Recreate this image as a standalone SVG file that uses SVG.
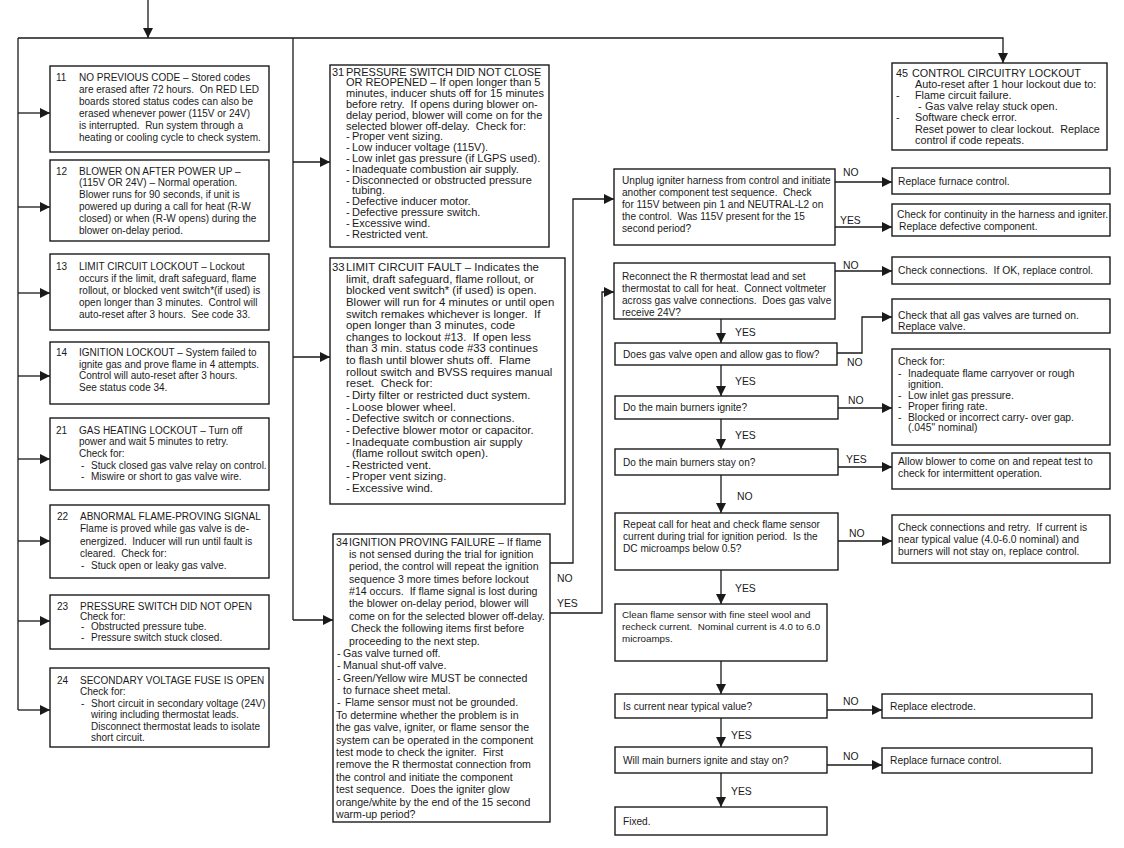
<svg xmlns="http://www.w3.org/2000/svg" width="1124" height="848" viewBox="0 0 1124 848">
<defs>
<marker id="ah" viewBox="0 0 10 10" refX="10" refY="5" markerWidth="10" markerHeight="10" markerUnits="userSpaceOnUse" orient="auto">
<path d="M0,0 L10,5 L0,10 z" fill="#1a1a1a"/>
</marker>
<style>
.b{fill:#fff;stroke:#1a1a1a;stroke-width:1.4}
.t{font-family:"Liberation Sans",Arial,Helvetica,sans-serif;font-size:10px;fill:#1a1a1a}
.m1{font-size:11px}
.m3{font-size:11.4px}
.m4{font-size:10.6px}
.r45{font-size:10.8px}
.f{font-size:10.1px}
.f2{font-size:9.8px}
.rb{font-size:10.3px}
.c{fill:none;stroke:#1a1a1a;stroke-width:1.3}
.a{marker-end:url(#ah)}
.l{font-family:"Liberation Sans",Arial,Helvetica,sans-serif;font-size:10.4px;fill:#1a1a1a}
</style>
</defs>
<rect width="1124" height="848" fill="#fff"/>

<g id="connectors">
<path class="c a" d="M148,0 V38"/>
<path class="c a" d="M18,38 H1003 V63"/>
<path class="c" d="M18,38 V710"/>
<path class="c a" d="M18,113 H50"/>
<path class="c a" d="M18,207 H50"/>
<path class="c a" d="M18,293 H50"/>
<path class="c a" d="M18,376 H50"/>
<path class="c a" d="M18,459 H50"/>
<path class="c a" d="M18,541 H50"/>
<path class="c a" d="M18,621 H50"/>
<path class="c a" d="M18,710 H50"/>
<path class="c" d="M293,38 V620"/>
<path class="c a" d="M293,162 H330"/>
<path class="c a" d="M293,357 H330"/>
<path class="c a" d="M293,620 H333"/>
<path class="c a" d="M550,563 H573 V199 H614"/>
<path class="c a" d="M550,613 H602 V292 H614"/>
<path class="c a" d="M835,182 H892"/>
<path class="c a" d="M835,227 H892"/>
<path class="c a" d="M835,271 H892"/>
<path class="c a" d="M837,353 H862 V317 H892"/>
<path class="c a" d="M838,408 H892"/>
<path class="c a" d="M838,467 H892"/>
<path class="c a" d="M838,541 H892"/>
<path class="c a" d="M827,710 H882"/>
<path class="c a" d="M827,765 H882"/>
<path class="c a" d="M721,319 V343"/>
<path class="c a" d="M721,365 V396"/>
<path class="c a" d="M721,419 V449"/>
<path class="c a" d="M721,475 V513"/>
<path class="c a" d="M721,570 V604"/>
<path class="c a" d="M721,661 V694"/>
<path class="c a" d="M721,718 V747"/>
<path class="c a" d="M721,773 V807"/>
<text class="l" x="557" y="582">NO</text>
<text class="l" x="557" y="607">YES</text>
<text class="l" x="843" y="176">NO</text>
<text class="l" x="840" y="224">YES</text>
<text class="l" x="843" y="269">NO</text>
<text class="l" x="735" y="336">YES</text>
<text class="l" x="847" y="366">NO</text>
<text class="l" x="735" y="385">YES</text>
<text class="l" x="848" y="404">NO</text>
<text class="l" x="735" y="439">YES</text>
<text class="l" x="846" y="463">YES</text>
<text class="l" x="737" y="500">NO</text>
<text class="l" x="849" y="537">NO</text>
<text class="l" x="735" y="592">YES</text>
<text class="l" x="843" y="705">NO</text>
<text class="l" x="731" y="739">YES</text>
<text class="l" x="843" y="760">NO</text>
<text class="l" x="731" y="795">YES</text>
</g>

<g id="n11">
<rect class="b" x="50" y="66" width="219" height="86"/>
<text class="t"><tspan x="56" y="81">11</tspan><tspan x="79" y="81">NO PREVIOUS CODE – Stored codes</tspan><tspan x="79" y="92.9">are erased after 72 hours.&#160; On RED LED</tspan><tspan x="79" y="104.8">boards stored status codes can also be</tspan><tspan x="79" y="116.7">erased whenever power (115V or 24V)</tspan><tspan x="79" y="128.6">is interrupted.&#160; Run system through a</tspan><tspan x="79" y="140.5">heating or cooling cycle to check system.</tspan></text>
</g>

<g id="n12">
<rect class="b" x="50" y="160" width="219" height="81"/>
<text class="t"><tspan x="56" y="174.5">12</tspan><tspan x="79" y="174.5">BLOWER ON AFTER POWER UP –</tspan><tspan x="79" y="186.4">(115V OR 24V) – Normal operation.</tspan><tspan x="79" y="198.3">Blower runs for 90 seconds, if unit is</tspan><tspan x="79" y="210.2">powered up during a call for heat (R-W</tspan><tspan x="79" y="222.1">closed) or when (R-W opens) during the</tspan><tspan x="79" y="234">blower on-delay period.</tspan></text>
</g>

<g id="n13">
<rect class="b" x="50" y="254" width="219" height="76"/>
<text class="t"><tspan x="56" y="269.5">13</tspan><tspan x="79" y="269.5">LIMIT CIRCUIT LOCKOUT – Lockout</tspan><tspan x="79" y="281.5">occurs if the limit, draft safeguard, flame</tspan><tspan x="79" y="293.5">rollout, or blocked vent switch*(if used) is</tspan><tspan x="79" y="305.5">open longer than 3 minutes.&#160; Control will</tspan><tspan x="79" y="317.5">auto-reset after 3 hours.&#160; See code 33.</tspan></text>
</g>

<g id="n14">
<rect class="b" x="50" y="342" width="219" height="62"/>
<text class="t"><tspan x="56" y="356">14</tspan><tspan x="79" y="356">IGNITION LOCKOUT – System failed to</tspan><tspan x="79" y="367.7">ignite gas and prove flame in 4 attempts.</tspan><tspan x="79" y="379.4">Control will auto-reset after 3 hours.</tspan><tspan x="79" y="391.1">See status code 34.</tspan></text>
</g>

<g id="n21">
<rect class="b" x="50" y="418" width="219" height="72"/>
<text class="t"><tspan x="56" y="433.5">21</tspan><tspan x="79" y="433.5">GAS HEATING LOCKOUT – Turn off</tspan><tspan x="79" y="445.2">power and wait 5 minutes to retry.</tspan><tspan x="79" y="456.9">Check for:</tspan><tspan x="81" y="468.6">-</tspan><tspan x="91" y="468.6">Stuck closed gas valve relay on control.</tspan><tspan x="81" y="480.3">-</tspan><tspan x="91" y="480.3">Miswire or short to gas valve wire.</tspan></text>
</g>

<g id="n22">
<rect class="b" x="50" y="505" width="219" height="73"/>
<text class="t"><tspan x="57" y="520">22</tspan><tspan x="80" y="520">ABNORMAL FLAME-PROVING SIGNAL</tspan><tspan x="80" y="532.2">Flame is proved while gas valve is de-</tspan><tspan x="80" y="544.5">energized.&#160; Inducer will run until fault is</tspan><tspan x="80" y="556.7">cleared.&#160; Check for:</tspan><tspan x="81" y="569">-</tspan><tspan x="91" y="569">Stuck open or leaky gas valve.</tspan></text>
</g>

<g id="n23">
<rect class="b" x="50" y="595" width="219" height="54"/>
<text class="t"><tspan x="57" y="609.5">23</tspan><tspan x="80" y="609.5">PRESSURE SWITCH DID NOT OPEN</tspan><tspan x="80" y="619.9">Check for:</tspan><tspan x="81" y="630.3">-</tspan><tspan x="91" y="630.3">Obstructed pressure tube.</tspan><tspan x="81" y="640.7">-</tspan><tspan x="91" y="640.7">Pressure switch stuck closed.</tspan></text>
</g>

<g id="n24">
<rect class="b" x="50" y="668" width="219" height="79"/>
<text class="t"><tspan x="57" y="683.5">24</tspan><tspan x="80" y="683.5">SECONDARY VOLTAGE FUSE IS OPEN</tspan><tspan x="80" y="695">Check for:</tspan><tspan x="81" y="706.5">-</tspan><tspan x="91" y="706.5">Short circuit in secondary voltage (24V)</tspan><tspan x="91" y="718">wiring including thermostat leads.</tspan><tspan x="91" y="729.5">Disconnect thermostat leads to isolate</tspan><tspan x="91" y="741">short circuit.</tspan></text>
</g>

<g id="n31">
<rect class="b" x="330" y="65" width="219" height="182"/>
<text class="t m1"><tspan x="332" y="75.5">31</tspan><tspan x="346" y="75.5">PRESSURE SWITCH DID NOT CLOSE</tspan><tspan x="346" y="86.3">OR REOPENED – If open longer than 5</tspan><tspan x="346" y="97.1">minutes, inducer shuts off for 15 minutes</tspan><tspan x="346" y="107.9">before retry.&#160; If opens during blower on-</tspan><tspan x="346" y="118.7">delay period, blower will come on for the</tspan><tspan x="346" y="129.5">selected blower off-delay.&#160; Check for:</tspan><tspan x="346" y="140.3">-</tspan><tspan x="352" y="140.3">Proper vent sizing.</tspan><tspan x="346" y="151.1">-</tspan><tspan x="352" y="151.1">Low inducer voltage (115V).</tspan><tspan x="346" y="161.9">-</tspan><tspan x="352" y="161.9">Low inlet gas pressure (if LGPS used).</tspan><tspan x="346" y="172.7">-</tspan><tspan x="352" y="172.7">Inadequate combustion air supply.</tspan><tspan x="346" y="183.5">-</tspan><tspan x="352" y="183.5">Disconnected or obstructed pressure</tspan><tspan x="352" y="194.3">tubing.</tspan><tspan x="346" y="205.1">-</tspan><tspan x="352" y="205.1">Defective inducer motor.</tspan><tspan x="346" y="215.9">-</tspan><tspan x="352" y="215.9">Defective pressure switch.</tspan><tspan x="346" y="226.7">-</tspan><tspan x="352" y="226.7">Excessive wind.</tspan><tspan x="346" y="237.5">-</tspan><tspan x="352" y="237.5">Restricted vent.</tspan></text>
</g>

<g id="n33">
<rect class="b" x="330" y="258" width="235" height="246"/>
<text class="t m3"><tspan x="332" y="271">33</tspan><tspan x="346" y="271">LIMIT CIRCUIT FAULT – Indicates the</tspan><tspan x="346" y="282.6">limit, draft safeguard, flame rollout, or</tspan><tspan x="346" y="294.3">blocked vent switch* (if used) is open.</tspan><tspan x="346" y="305.9">Blower will run for 4 minutes or until open</tspan><tspan x="346" y="317.5">switch remakes whichever is longer.&#160; If</tspan><tspan x="346" y="329.2">open longer than 3 minutes, code</tspan><tspan x="346" y="340.8">changes to lockout #13.&#160; If open less</tspan><tspan x="346" y="352.4">than 3 min. status code #33 continues</tspan><tspan x="346" y="364">to flash until blower shuts off.&#160; Flame</tspan><tspan x="346" y="375.7">rollout switch and BVSS requires manual</tspan><tspan x="346" y="387.3">reset.&#160; Check for:</tspan><tspan x="346" y="398.9">-</tspan><tspan x="352" y="398.9">Dirty filter or restricted duct system.</tspan><tspan x="346" y="410.6">-</tspan><tspan x="352" y="410.6">Loose blower wheel.</tspan><tspan x="346" y="422.2">-</tspan><tspan x="352" y="422.2">Defective switch or connections.</tspan><tspan x="346" y="433.8">-</tspan><tspan x="352" y="433.8">Defective blower motor or capacitor.</tspan><tspan x="346" y="445.5">-</tspan><tspan x="352" y="445.5">Inadequate combustion air supply</tspan><tspan x="352" y="457.1">(flame rollout switch open).</tspan><tspan x="346" y="468.7">-</tspan><tspan x="352" y="468.7">Restricted vent.</tspan><tspan x="346" y="480.4">-</tspan><tspan x="352" y="480.4">Proper vent sizing.</tspan><tspan x="346" y="492">-</tspan><tspan x="352" y="492">Excessive wind.</tspan></text>
</g>

<g id="n34">
<rect class="b" x="333" y="534" width="217" height="288"/>
<text class="t m4"><tspan x="336" y="545.5">34</tspan><tspan x="349" y="545.5">IGNITION PROVING FAILURE – If flame</tspan><tspan x="349" y="557.9">is not sensed during the trial for ignition</tspan><tspan x="349" y="570.3">period, the control will repeat the ignition</tspan><tspan x="349" y="582.6">sequence 3 more times before lockout</tspan><tspan x="349" y="595">#14 occurs.&#160; If flame signal is lost during</tspan><tspan x="349" y="607.4">the blower on-delay period, blower will</tspan><tspan x="349" y="619.8">come on for the selected blower off-delay.</tspan><tspan x="351" y="632.2">Check the following items first before</tspan><tspan x="349" y="644.5">proceeding to the next step.</tspan><tspan x="337" y="656.9">-</tspan><tspan x="343" y="656.9">Gas valve turned off.</tspan><tspan x="337" y="669.3">-</tspan><tspan x="343" y="669.3">Manual shut-off valve.</tspan><tspan x="337" y="681.7">-</tspan><tspan x="343" y="681.7">Green/Yellow wire MUST be connected</tspan><tspan x="343" y="694.1">to furnace sheet metal.</tspan><tspan x="337" y="706.4">-</tspan><tspan x="345" y="706.4">Flame sensor must not be grounded.</tspan><tspan x="336" y="718.8">To determine whether the problem is in</tspan><tspan x="336" y="731.2">the gas valve, igniter, or flame sensor the</tspan><tspan x="336" y="743.6">system can be operated in the component</tspan><tspan x="336" y="756">test mode to check the igniter.&#160; First</tspan><tspan x="336" y="768.3">remove the R thermostat connection from</tspan><tspan x="336" y="780.7">the control and initiate the component</tspan><tspan x="336" y="793.1">test sequence.&#160; Does the igniter glow</tspan><tspan x="336" y="805.5">orange/white by the end of the 15 second</tspan><tspan x="336" y="817.9">warm-up period?</tspan></text>
</g>

<g id="n45">
<rect class="b" x="892" y="63" width="215" height="87"/>
<text class="t r45"><tspan x="896" y="77">45</tspan><tspan x="912" y="77">CONTROL CIRCUITRY LOCKOUT</tspan><tspan x="915" y="88.1">Auto-reset after 1 hour lockout due to:</tspan><tspan x="896" y="99.2">-</tspan><tspan x="915" y="99.2">Flame circuit failure.</tspan><tspan x="918" y="110.3">-</tspan><tspan x="925" y="110.3">Gas valve relay stuck open.</tspan><tspan x="896" y="121.4">-</tspan><tspan x="915" y="121.4">Software check error.</tspan><tspan x="915" y="132.5">Reset power to clear lockout.&#160; Replace</tspan><tspan x="915" y="143.6">control if code repeats.</tspan></text>
</g>

<g id="unplug">
<rect class="b" x="614" y="169" width="221" height="76"/>
<text class="t f"><tspan x="622" y="183.5">Unplug igniter harness from control and initiate</tspan><tspan x="622" y="195.7">another component test sequence.&#160; Check</tspan><tspan x="622" y="207.9">for 115V between pin 1 and NEUTRAL-L2 on</tspan><tspan x="622" y="220.1">the control.&#160; Was 115V present for the 15</tspan><tspan x="622" y="232.3">second period?</tspan></text>
</g>

<g id="reconnect">
<rect class="b" x="614" y="263" width="221" height="56"/>
<text class="t f"><tspan x="622" y="280">Reconnect the R thermostat lead and set</tspan><tspan x="622" y="292">thermostat to call for heat.&#160; Connect voltmeter</tspan><tspan x="622" y="304">across gas valve connections.&#160; Does gas valve</tspan><tspan x="622" y="316">receive 24V?</tspan></text>
</g>

<g id="gasvalve">
<rect class="b" x="615" y="343" width="222" height="22"/>
<text class="t f" x="623" y="357.5">Does gas valve open and allow gas to flow?</text>
</g>

<g id="ignite">
<rect class="b" x="615" y="396" width="223" height="23"/>
<text class="t f" x="623" y="411">Do the main burners ignite?</text>
</g>

<g id="stayon">
<rect class="b" x="615" y="449" width="223" height="26"/>
<text class="t f" x="623" y="465.5">Do the main burners stay on?</text>
</g>

<g id="repeat">
<rect class="b" x="615" y="513" width="223" height="57"/>
<text class="t f"><tspan x="623" y="528">Repeat call for heat and check flame sensor</tspan><tspan x="623" y="540.2">current during trial for ignition period.&#160; Is the</tspan><tspan x="623" y="552.4">DC microamps below 0.5?</tspan></text>
</g>

<g id="clean">
<rect class="b" x="615" y="604" width="212" height="57"/>
<text class="t f2"><tspan x="622" y="617.5">Clean flame sensor with fine steel wool and</tspan><tspan x="622" y="629.7">recheck current.&#160; Nominal current is 4.0 to 6.0</tspan><tspan x="622" y="641.9">microamps.</tspan></text>
</g>

<g id="iscurrent">
<rect class="b" x="615" y="694" width="212" height="24"/>
<text class="t f" x="623" y="709.5">Is current near typical value?</text>
</g>

<g id="willignite">
<rect class="b" x="615" y="747" width="212" height="26"/>
<text class="t f" x="623" y="763.5">Will main burners ignite and stay on?</text>
</g>

<g id="fixed">
<rect class="b" x="615" y="807" width="212" height="28"/>
<text class="t f" x="623" y="824.5">Fixed.</text>
</g>

<g id="replace1">
<rect class="b" x="892" y="168" width="218" height="26"/>
<text class="t rb" x="898" y="184.5">Replace furnace control.</text>
</g>

<g id="continuity">
<rect class="b" x="892" y="204" width="218" height="32"/>
<text class="t rb"><tspan x="897" y="218">Check for continuity in the harness and igniter.</tspan><tspan x="899" y="229.5">Replace defective component.</tspan></text>
</g>

<g id="checkconn">
<rect class="b" x="892" y="257" width="218" height="27"/>
<text class="t rb" x="898" y="274">Check connections.&#160; If OK, replace control.</text>
</g>

<g id="gasvalves">
<rect class="b" x="892" y="299" width="218" height="34"/>
<text class="t rb"><tspan x="898" y="318.5">Check that all gas valves are turned on.</tspan><tspan x="898" y="330">Replace valve.</tspan></text>
</g>

<g id="checkfor">
<rect class="b" x="892" y="349" width="218" height="96"/>
<text class="t rb"><tspan x="898" y="365.2">Check for:</tspan><tspan x="898" y="376.8">-</tspan><tspan x="908" y="376.8">Inadequate flame carryover or rough</tspan><tspan x="908" y="387.5">ignition.</tspan><tspan x="898" y="398.5">-</tspan><tspan x="908" y="398.5">Low inlet gas pressure.</tspan><tspan x="898" y="409.5">-</tspan><tspan x="908" y="409.5">Proper firing rate.</tspan><tspan x="898" y="420.8">-</tspan><tspan x="908" y="420.8">Blocked or incorrect carry- over gap.</tspan><tspan x="908" y="431.2">(.045" nominal)</tspan></text>
</g>

<g id="allow">
<rect class="b" x="892" y="453" width="218" height="36"/>
<text class="t rb"><tspan x="898" y="465.2">Allow blower to come on and repeat test to</tspan><tspan x="898" y="476.8">check for intermittent operation.</tspan></text>
</g>

<g id="retry">
<rect class="b" x="892" y="515" width="218" height="48"/>
<text class="t rb"><tspan x="898" y="530.5">Check connections and retry.&#160; If current is</tspan><tspan x="898" y="542.5">near typical value (4.0-6.0 nominal) and</tspan><tspan x="898" y="554.5">burners will not stay on, replace control.</tspan></text>
</g>

<g id="electrode">
<rect class="b" x="882" y="694" width="210" height="24"/>
<text class="t rb" x="890" y="709.5">Replace electrode.</text>
</g>

<g id="replace2">
<rect class="b" x="882" y="748" width="210" height="25"/>
<text class="t rb" x="890" y="764">Replace furnace control.</text>
</g>
</svg>
